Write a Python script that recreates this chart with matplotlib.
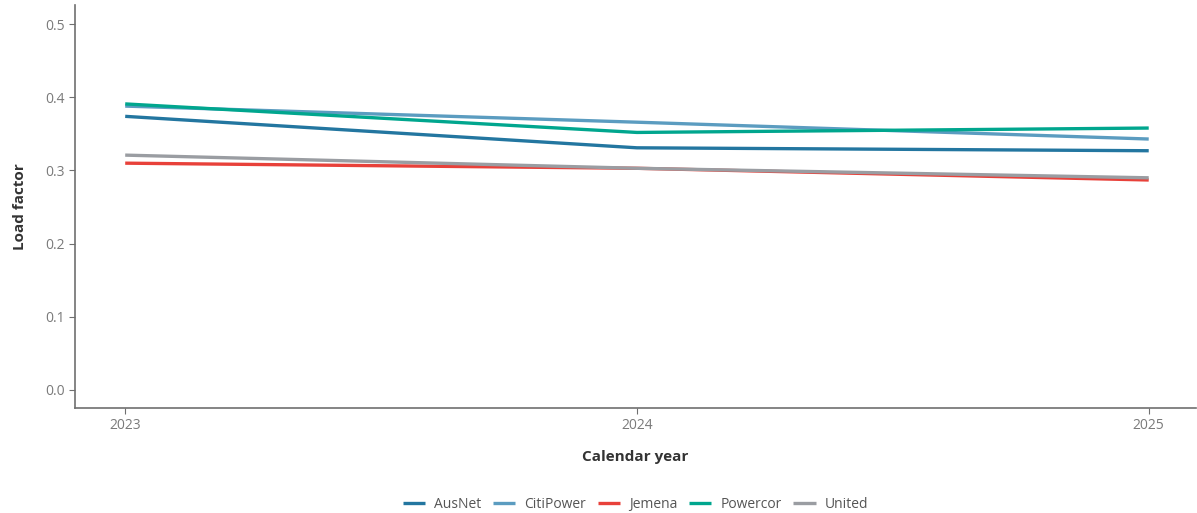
import matplotlib
matplotlib.use('Agg')
import matplotlib.pyplot as plt

years = [2023, 2024, 2025]
ausnet = [0.374, 0.331, 0.327]
citipower = [0.388, 0.366, 0.343]
jemena = [0.310, 0.303, 0.287]
powercor = [0.391, 0.352, 0.358]
united = [0.321, 0.303, 0.290]

series = [
    ('AusNet', ausnet, '#2376a0'),
    ('CitiPower', citipower, '#5b9cc0'),
    ('Jemena', jemena, '#e8413a'),
    ('Powercor', powercor, '#00a68e'),
    ('United', united, '#9a9da2'),
]

plt.rcParams['font.family'] = ['Open Sans', 'DejaVu Sans']

fig = plt.figure(figsize=(11.97, 5.13), dpi=100)
ax = fig.add_axes([0.0627, 0.2047, 0.9363, 0.7853])

for name, vals, col in series:
    ax.plot(years, vals, color=col, lw=2.4, label=name, solid_capstyle='butt')

ax.set_xlim(2022.902, 2025.092)
ax.set_ylim(-0.0246, 0.526)
ax.set_xticks(years)
ax.set_xticklabels([str(y) for y in years])
ax.set_yticks([0.0, 0.1, 0.2, 0.3, 0.4, 0.5])
ax.set_yticklabels(['0.0', '0.1', '0.2', '0.3', '0.4', '0.5'])

# only left/bottom axis lines, grey
for s in ['top', 'right']:
    ax.spines[s].set_visible(False)
for s in ['left', 'bottom']:
    ax.spines[s].set_color('#6f6f6f')
    ax.spines[s].set_linewidth(1.2)
ax.tick_params(colors='#6f6f6f', labelcolor='#7a7a7a', labelsize=10, length=4)

ax.set_xlabel('Calendar year', fontsize=11, fontweight='bold', color='#333333', labelpad=12)
ax.set_ylabel('Load factor', fontsize=11, fontweight='bold', color='#333333', labelpad=13)

ax.legend(loc='upper center', bbox_to_anchor=(0.5, -0.19), ncol=5, frameon=False,
          fontsize=10, labelcolor='#555555', handlelength=1.6, columnspacing=0.85,
          handletextpad=0.65)

fig.savefig('out.png', dpi=100)
